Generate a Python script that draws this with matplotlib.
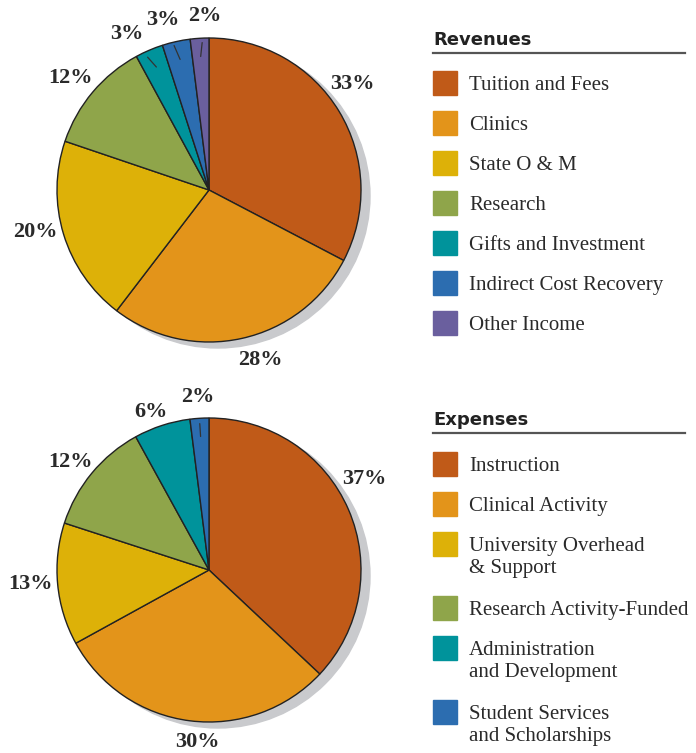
import numpy as np
import matplotlib.pyplot as plt
from matplotlib.patches import Circle, Rectangle

# データ
rev_labels = ['Tuition and Fees', 'Clinics', 'State O & M', 'Research',
              'Gifts and Investment', 'Indirect Cost Recovery', 'Other Income']
rev_values = [33, 28, 20, 12, 3, 3, 2]
rev_colors = ['#c05a18', '#e3941a', '#ddb108', '#8fa54a', '#00939b', '#2c6db0', '#6a5f9e']

exp_labels = ['Instruction', 'Clinical Activity', 'University Overhead\n& Support',
              'Research Activity-Funded', 'Administration\nand Development',
              'Student Services\nand Scholarships']
exp_values = [37, 30, 13, 12, 6, 2]
exp_colors = ['#c05a18', '#e3941a', '#ddb108', '#8fa54a', '#00939b', '#2c6db0']

W, H = 696, 753
fig = plt.figure(figsize=(W / 100, H / 100), dpi=100)
ax = fig.add_axes([0, 0, 1, 1])
ax.set_xlim(0, W)
ax.set_ylim(0, H)
ax.set_aspect('equal')
ax.axis('off')

SERIF = 'Liberation Serif'
R = 152


def draw_pie(values, colors, cy, label_pos, leaders):
    cx = 209
    y = H - cy
    ax.add_patch(Circle((cx + 9, y - 6), R, color='#c9cacd', zorder=0))
    wedges, _ = ax.pie(values, colors=colors, center=(cx, y), radius=R,
                       startangle=90, counterclock=False, frame=True,
                       wedgeprops=dict(edgecolor='#222222', linewidth=1.0))
    for w, v, (tx, ty), lead in zip(wedges, values, label_pos, leaders):
        ang = np.deg2rad((w.theta1 + w.theta2) / 2)
        txt = f'{v}%'
        if lead:
            px = cx + 0.88 * R * np.cos(ang)
            py = y + 0.88 * R * np.sin(ang)
            ax.annotate(txt, xy=(px, py), xytext=(tx, H - ty),
                        ha='center', va='center', fontsize=16,
                        fontweight='bold', family=SERIF, color='#2a2a2a',
                        arrowprops=dict(arrowstyle='-', color='#333333',
                                        lw=0.9, shrinkA=10, shrinkB=0))
        else:
            ax.text(tx, H - ty, txt, ha='center', va='center', fontsize=16,
                    fontweight='bold', family=SERIF, color='#2a2a2a')


def draw_legend(title, ty, labels, colors, rows):
    ax.text(433, H - ty, title, ha='left', va='center', fontsize=13,
            fontweight='bold', family='DejaVu Sans', color='#222222')
    ax.plot([433, 685], [H - ty - 13, H - ty - 13], color='#555555', lw=1.6)
    for lab, col, ry in zip(labels, colors, rows):
        ax.add_patch(Rectangle((433, H - ry - 12), 24, 24, color=col))
        ax.text(469, H - ry + 7, lab, ha='left', va='top', fontsize=15,
                family=SERIF, color='#2a2a2a', linespacing=1.25)


# Revenues
draw_pie(rev_values, rev_colors, 190,
         [(352, 84), (260, 360), (35, 232), (70, 78), (127, 34), (163, 20), (205, 16)],
         [False, False, False, False, True, True, True])
draw_legend('Revenues', 40, rev_labels, rev_colors,
            [83, 123, 163, 203, 243, 283, 323])

# Expenses
draw_pie(exp_values, exp_colors, 570,
         [(364, 479), (197, 742), (30, 584), (70, 462), (151, 412), (198, 397)],
         [False, False, False, False, False, True])
draw_legend('Expenses', 420, exp_labels, exp_colors,
            [464, 504, 544, 608, 648, 712])

ax.set_xlim(0, W)
ax.set_ylim(0, H)
ax.axis('off')

fig.savefig('out.png', dpi=100)
